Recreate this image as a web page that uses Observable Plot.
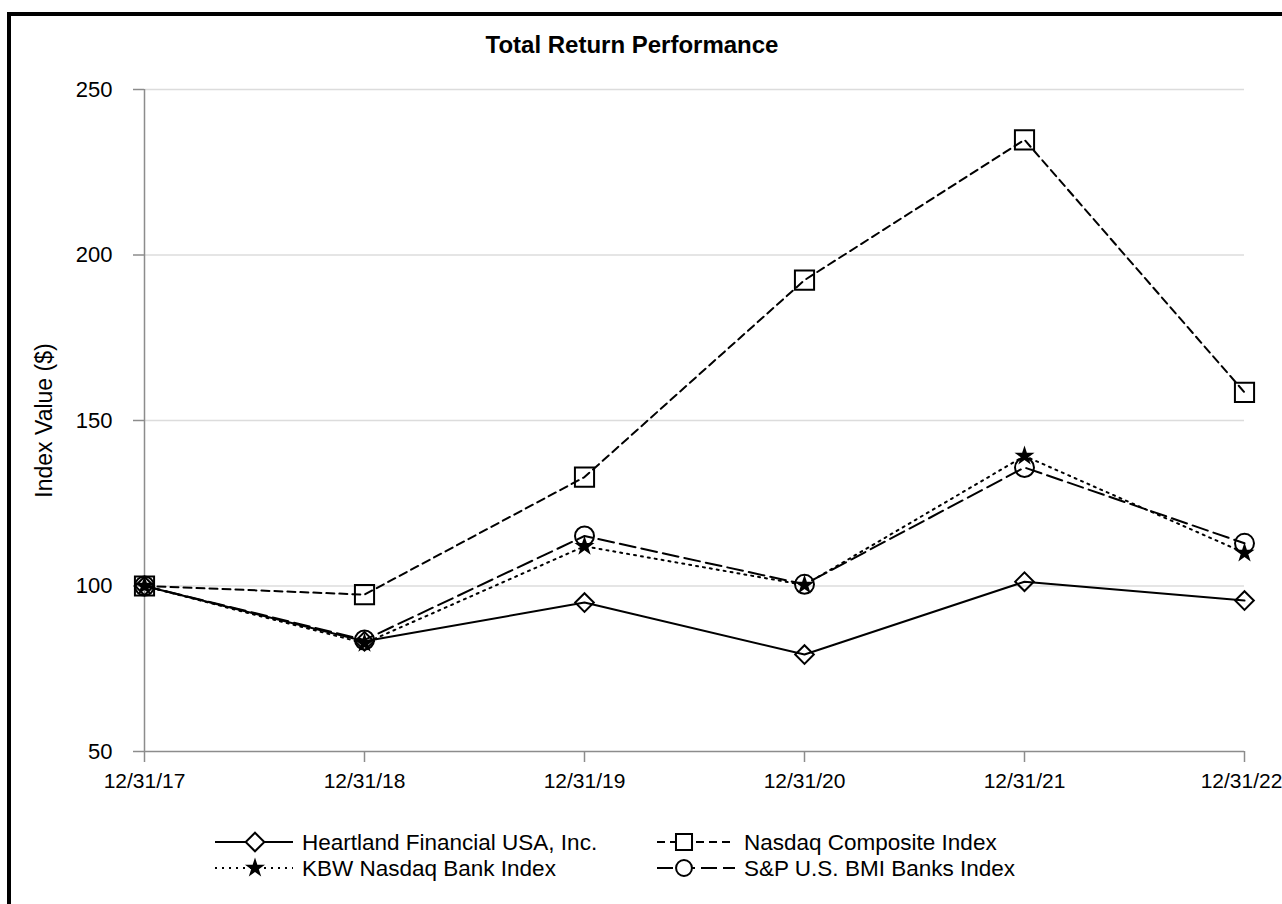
<!DOCTYPE html>
<html>
<head>
<meta charset="utf-8">
<script src="https://cdn.jsdelivr.net/npm/d3@7"></script>
<script src="https://cdn.jsdelivr.net/npm/@observablehq/plot@0.6"></script>
<style>
  html, body { margin: 0; padding: 0; background: #fff; }
  body { width: 1282px; height: 904px; position: relative; overflow: hidden; font-family: "Liberation Sans", Arial, sans-serif; }
  #frame { position: absolute; left: 7px; top: 12px; width: 1320px; height: 940px; border-left: 4px solid #000; border-top: 4px solid #000; box-sizing: border-box; }
  #title { position: absolute; left: 632px; top: 33px; transform: translateX(-50%); font-weight: bold; font-size: 24px; line-height: 1; white-space: nowrap; color: #000; }
  #chart { position: absolute; left: 0; top: 0; }
  #legend { position: absolute; left: 0; top: 820px; }
</style>
</head>
<body>
<div id="frame"></div>
<div id="chart"></div>
<div id="title">Total Return Performance</div>
<div id="legend"></div>
<script>
// ---- data ----
const dates = ["12/31/17", "12/31/18", "12/31/19", "12/31/20", "12/31/21", "12/31/22"];
const seriesNames = ["Heartland Financial USA, Inc.", "Nasdaq Composite Index", "KBW Nasdaq Bank Index", "S&P U.S. BMI Banks Index"];
const heartland = [100, 83.3, 95.0, 79.3, 101.3, 95.6];
const nasdaq = [100, 97.4, 132.9, 192.4, 234.8, 158.5];
const kbw = [100, 82.7, 112.0, 100.3, 139.3, 110.0];
const spBanks = [100, 83.7, 115.1, 100.5, 135.8, 112.9];
const yTicks = [50, 100, 150, 200, 250];
const yLabel = "Index Value ($)";

// ---- styles per series ----
const styles = [
  {values: heartland, dash: null, symbol: "diamond2", r: 8.4, fill: "none", stroke: "#000"},
  {values: nasdaq, dash: "8,5", symbol: "square2", r: 12.2, fill: "none", stroke: "#000"},
  {values: kbw, dash: "2,5", symbol: "star", r: 6.3, fill: "#000", stroke: "none"},
  {values: spBanks, dash: "16,6", symbol: "circle", r: 9.5, fill: "none", stroke: "#000"}
];

const tables = styles.map((s, k) => dates.map((d, i) => ({series: seriesNames[k], date: d, value: s.values[i]})));

const axisGray = "#8c8c8c";
const tickFont = 21;
const marks = [
  Plot.gridY(yTicks.slice(1), {stroke: "#dcdcdc", strokeOpacity: 1, strokeWidth: 1.5}),
  Plot.ruleX([dates[0]], {y1: 50, y2: 250, stroke: axisGray, strokeWidth: 1.5}),
  Plot.ruleY([50], {stroke: axisGray, strokeWidth: 1.5}),
  Plot.axisY({ticks: yTicks, tickSize: 11, tickPadding: 21, stroke: axisGray, strokeWidth: 1.5, fill: "#000", fontSize: 22, label: null}),
  Plot.axisX({tickSize: 11, tickFormat: () => "", stroke: axisGray, strokeWidth: 1.5, label: null}),
  Plot.text(dates.slice(0, 5), {x: d => d, frameAnchor: "bottom", lineAnchor: "middle", dy: 30, fontSize: tickFont, fill: "#000"}),
  Plot.text(dates.slice(5), {x: d => d, frameAnchor: "bottom", lineAnchor: "middle", dy: 30, dx: -3, fontSize: tickFont, fill: "#000"}),
  Plot.text([yLabel], {frameAnchor: "left", textAnchor: "middle", lineAnchor: "middle", dx: -100, rotate: -90, fontSize: 23, fill: "#000"})
];
styles.forEach((s, k) => {
  marks.push(Plot.line(tables[k], {x: "date", y: "value", stroke: "#000", strokeWidth: 2, strokeDasharray: s.dash || undefined}));
});
styles.forEach((s, k) => {
  marks.push(Plot.dot(tables[k], {x: "date", y: "value", symbol: s.symbol, r: s.r, fill: s.fill, stroke: s.stroke, strokeWidth: 2}));
});

const chart = Plot.plot({
  width: 1282,
  height: 800,
  marginLeft: 144,
  marginRight: 38,
  marginTop: 89,
  marginBottom: 49,
  x: {type: "point", domain: dates, padding: 0, label: null},
  y: {domain: [50, 250], label: null},
  style: {fontFamily: "Liberation Sans, Arial, sans-serif", fontSize: "21px", color: "#000", background: "transparent", overflow: "visible"},
  marks
});
document.getElementById("chart").appendChild(chart);

// ---- legend ----
const legendItems = [
  {col: 0, row: 0, k: 0},
  {col: 1, row: 0, k: 1},
  {col: 0, row: 1, k: 2},
  {col: 1, row: 1, k: 3}
];
const colX = [215, 657];
const symOffset = [40, 27];
const rowY = [22, 48];
const lsvg = d3.select("#legend").append("svg").attr("width", 1282).attr("height", 70)
  .style("font-family", "Liberation Sans, Arial, sans-serif");
const symMap = {diamond2: d3.symbolDiamond2, square2: d3.symbolSquare2, star: d3.symbolStar, circle: d3.symbolCircle};
legendItems.forEach(it => {
  const s = styles[it.k];
  const x0 = colX[it.col], y0 = rowY[it.row];
  const g = lsvg.append("g");
  g.append("line").attr("x1", x0).attr("x2", x0 + 78).attr("y1", y0).attr("y2", y0)
    .attr("stroke", "#000").attr("stroke-width", 2).attr("stroke-dasharray", s.dash || null);
  g.append("path").attr("d", d3.symbol(symMap[s.symbol], Math.PI * s.r * s.r * (it.col ? 0.7 : 1))())
    .attr("transform", `translate(${x0 + symOffset[it.col]},${y0})`)
    .attr("fill", s.fill === "none" ? "#fff" : s.fill).attr("stroke", s.stroke).attr("stroke-width", 2);
  g.append("text").attr("x", x0 + 87).attr("y", y0).attr("dy", "0.36em")
    .attr("font-size", 22.5).attr("fill", "#000").text(seriesNames[it.k]);
});
</script>
</body>
</html>
